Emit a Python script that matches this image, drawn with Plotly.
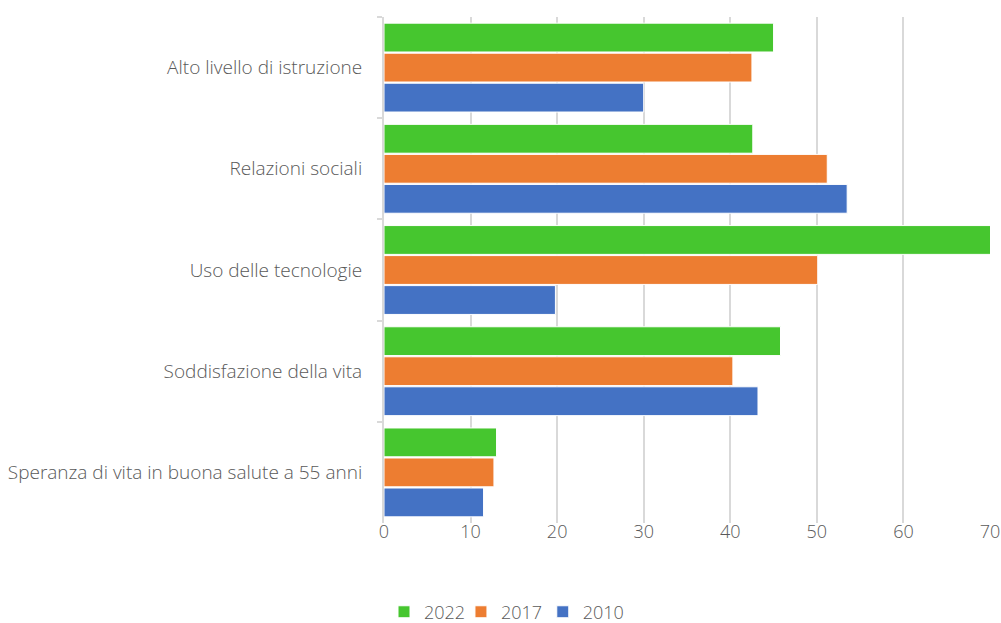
import plotly.graph_objects as go

categories = [
    "Alto livello di istruzione",
    "Relazioni sociali",
    "Uso delle tecnologie",
    "Soddisfazione della vita",
    "Speranza di vita in buona salute a 55 anni",
]
years = ["2022", "2017", "2010"]
values_2022 = [45.0, 42.6, 70.5, 45.8, 13.0]
values_2017 = [42.5, 51.2, 50.1, 40.3, 12.7]
values_2010 = [30.0, 53.5, 19.8, 43.2, 11.5]
colors = ["#46c62f", "#ed7d31", "#4472c4"]
x_ticks = [0, 10, 20, 30, 40, 50, 60, 70]

font_family = "Open Sans"
text_color = "#595959"

legend_names = ["legend", "legend2", "legend3"]
legend_x = [0.0, 0.127, 0.262]

fig = go.Figure()
for name, vals, col, lg in zip(years, [values_2022, values_2017, values_2010], colors, legend_names):
    fig.add_trace(go.Bar(
        y=categories, x=vals, name=name, orientation="h",
        marker=dict(color=col, line=dict(color="white", width=1)),
        cliponaxis=False, legend=lg,
    ))

legend_common = dict(orientation="h", xref="paper", xanchor="left",
                     yref="paper", y=-0.176, yanchor="middle",
                     font=dict(size=18, color=text_color, weight=300),
                     itemwidth=30, bgcolor="rgba(0,0,0,0)")

fig.update_layout(
    width=1001, height=623,
    margin=dict(l=384, r=11, t=17, b=100, autoexpand=False),
    paper_bgcolor="white", plot_bgcolor="white",
    barmode="group", bargap=0.11, bargroupgap=0.04,
    font=dict(family=font_family, size=18, color=text_color, weight=300),
    legend=dict(x=legend_x[0], **legend_common),
    legend2=dict(x=legend_x[1], **legend_common),
    legend3=dict(x=legend_x[2], **legend_common),
    showlegend=True,
)
fig.update_xaxes(
    range=[0, 70], tickvals=x_ticks, showgrid=True, gridcolor="#d9d9d9", gridwidth=2,
    zeroline=False, showline=False, ticks="", ticklabelstandoff=-4, automargin=False,
    tickfont=dict(size=18),
)
fig.update_yaxes(
    autorange="reversed", showline=True, linecolor="#d9d9d9", linewidth=2,
    ticks="outside", ticklen=5, tickcolor="#d9d9d9", tickwidth=2, tickson="boundaries",
    ticklabelstandoff=16, showgrid=False, automargin=False,
    tickfont=dict(size=19),
)
fig.write_html("out.html", config={"displayModeBar": False},
               post_script="document.body.style.margin='0';document.body.style.overflow='hidden';")
